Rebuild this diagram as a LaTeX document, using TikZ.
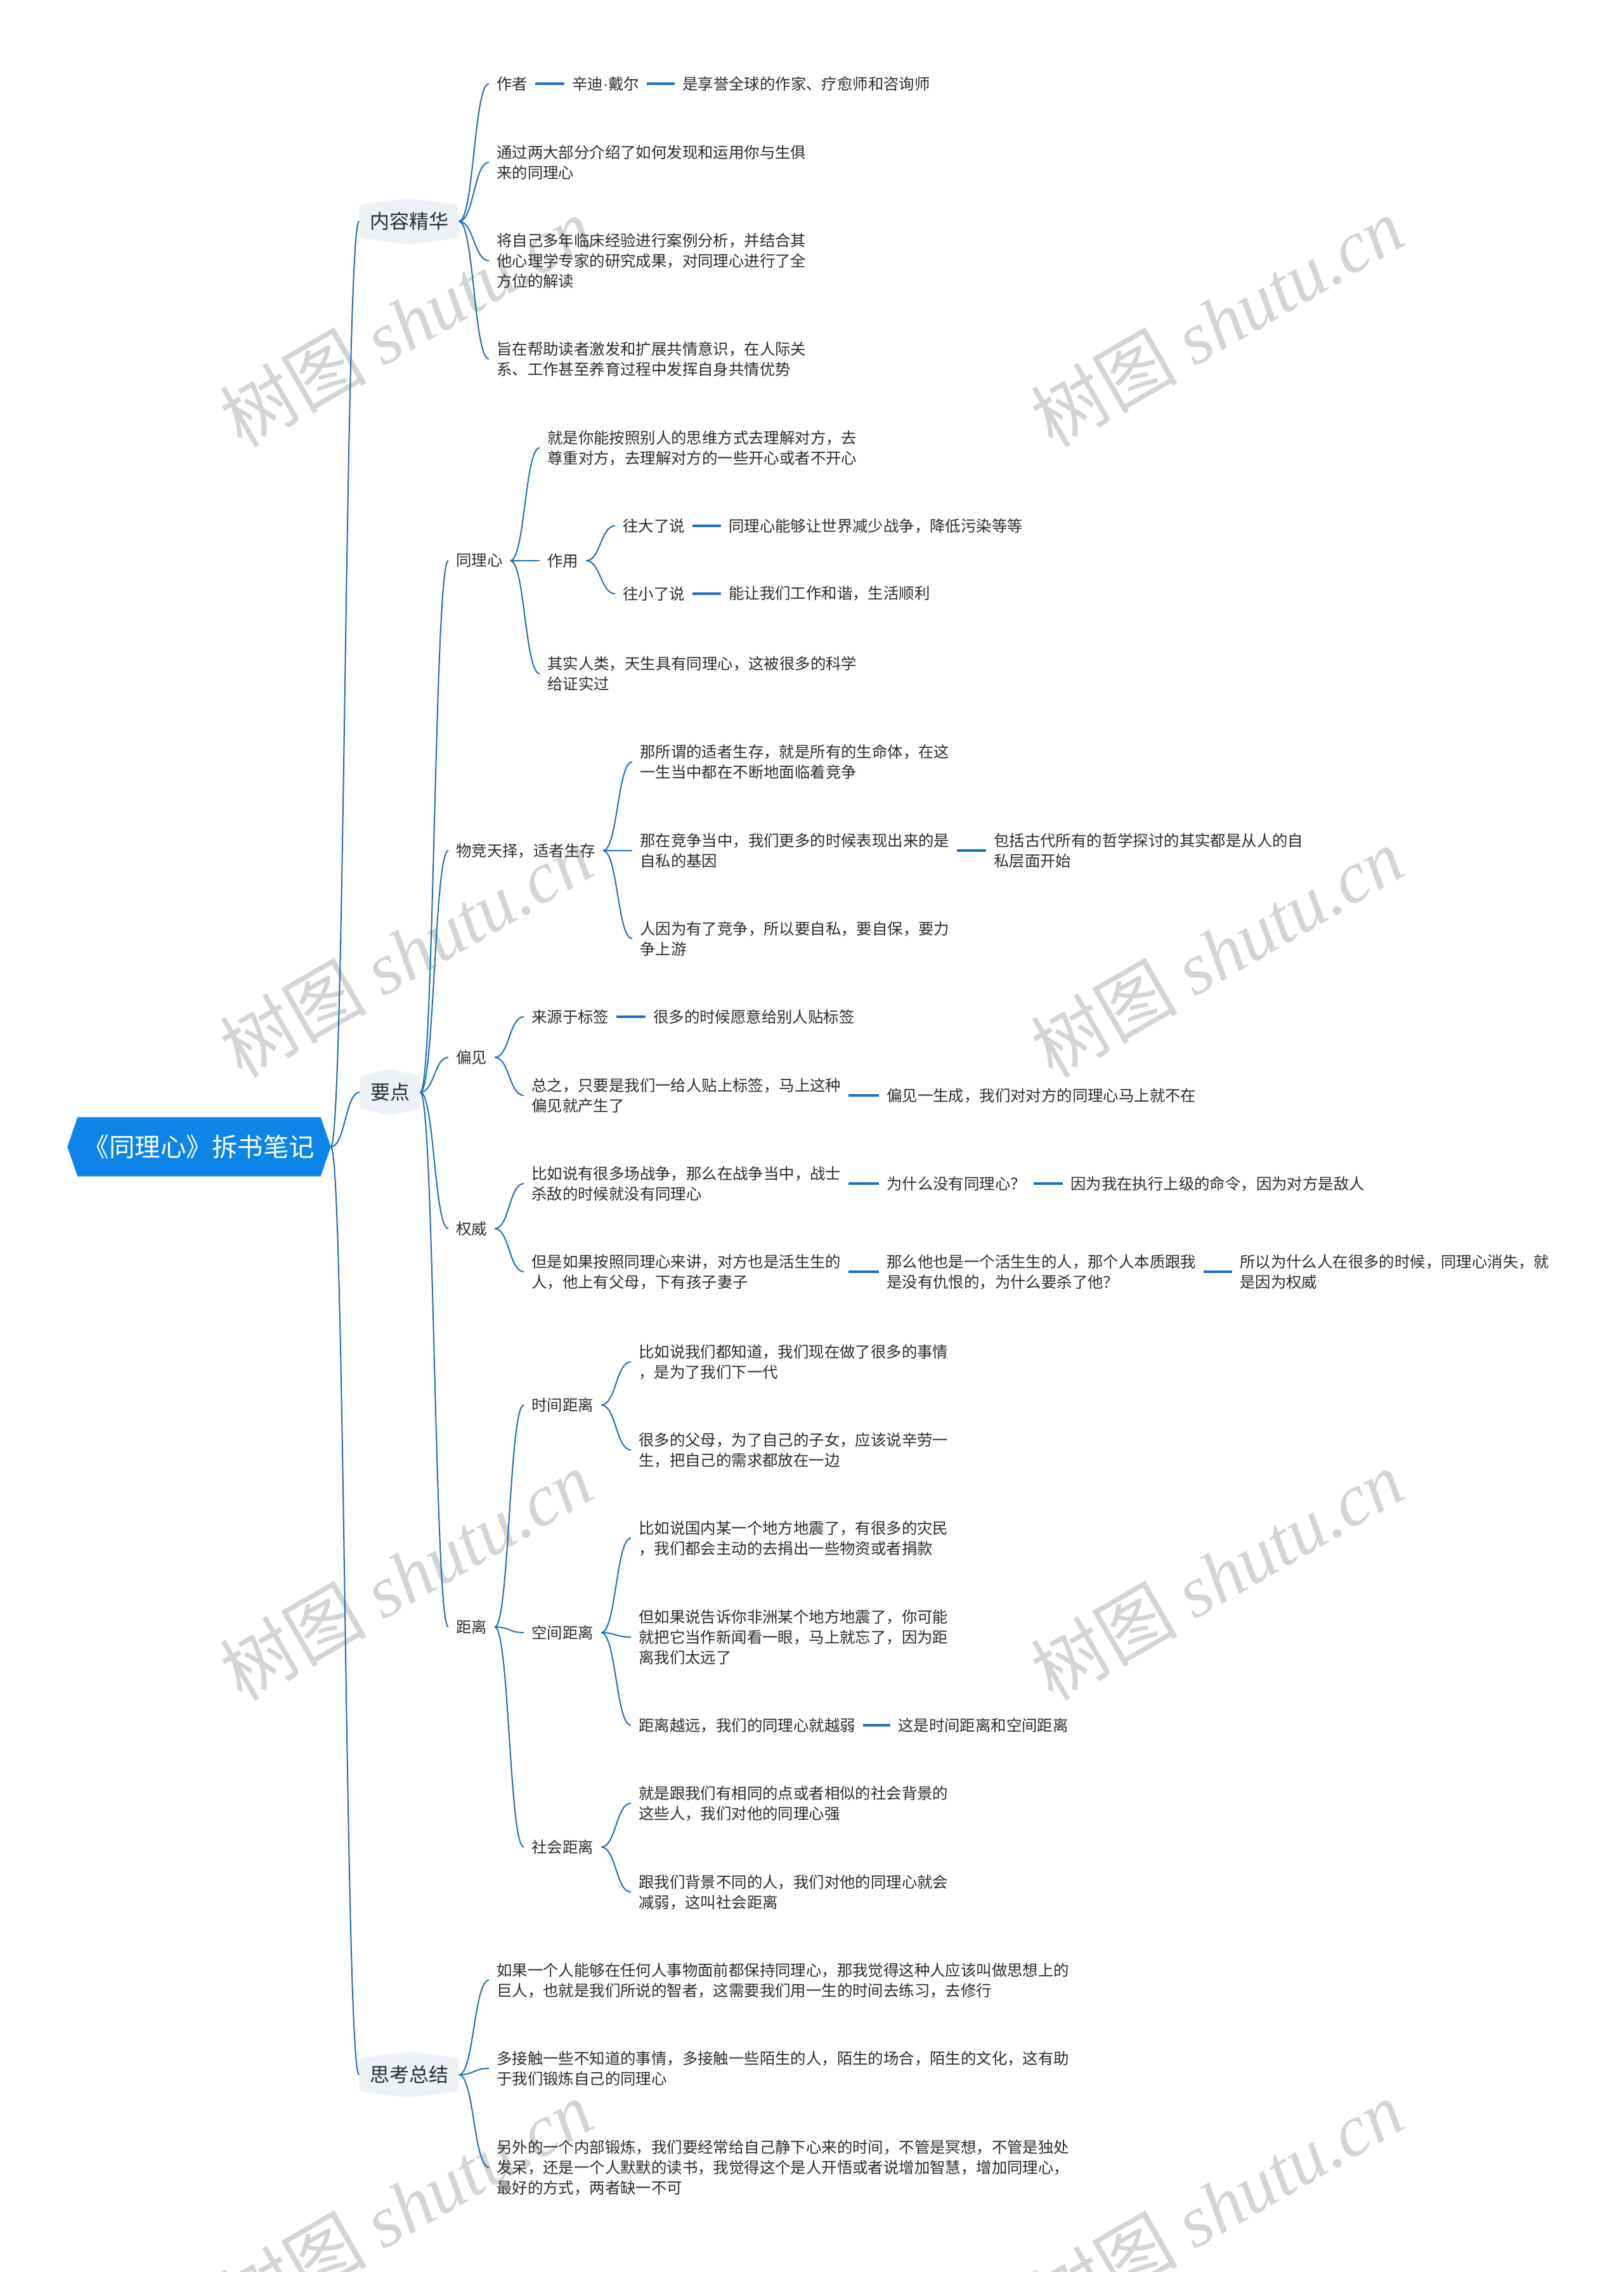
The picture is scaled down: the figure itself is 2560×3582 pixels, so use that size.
\documentclass[tikz,border=0pt]{standalone}
\usepackage{fontspec}
\setmainfont{Noto Sans CJK SC}
\newfontfamily\wmlatin{Liberation Serif}
\newfontfamily\dotfont{Liberation Sans}
\usetikzlibrary{calc,backgrounds}
\definecolor{linec}{RGB}{30,108,192}
\definecolor{rootc}{RGB}{12,132,232}
\definecolor{lvlc}{RGB}{237,241,246}
\definecolor{txtc}{RGB}{45,45,45}
\definecolor{wmc}{RGB}{212,212,212}
\tikzset{
  txt/.style={anchor=west,inner xsep=12pt,inner ysep=2pt,align=left,text=txtc,font=\fontsize{24.4}{32}\selectfont},
  lvl/.style={inner xsep=16.5pt,inner ysep=0pt,minimum height=52pt,text=txtc,font=\fontsize{31}{36}\selectfont},
  rootnode/.style={inner sep=0pt,minimum width=383pt,minimum height=93pt,text=white,font=\fontsize{40.5}{48}\selectfont},
  wm/.style={rotate=30,text=wmc,font=\fontsize{116}{120}\selectfont,inner sep=0pt},
  conn/.style={draw=linec,line width=2pt},
  chain/.style={draw=linec,line width=3.4pt},
  curvy/.style={to path={let \p1=(\tikztostart),\p2=(\tikztotarget),\n1={0.5*(\x2-\x1)} in .. controls +(\n1,0) and +(-\n1,0) .. (\tikztotarget)}},
}
\newcommand{\wmtext}{树图 {\wmlatin\itshape shutu.cn}}
\begin{document}
\begin{tikzpicture}[x=1pt,y=-1pt]
\useasboundingbox (0,0) rectangle (2560,3582);
\begin{scope}[on background layer]
  \fill[white] (0,0) rectangle (2560,3582);
  \node[wm] (w1) at (640,507) {\wmtext};
  \node[wm] (w2) at (1919,507) {\wmtext};
  \node[wm] (w3) at (640,1501) {\wmtext};
  \node[wm] (w4) at (1919,1501) {\wmtext};
  \node[wm] (w5) at (640,2483) {\wmtext};
  \node[wm] (w6) at (1919,2483) {\wmtext};
  \node[wm] (w7) at (640,3476) {\wmtext};
  \node[wm] (w8) at (1919,3476) {\wmtext};
\end{scope}

% root and level 1
\node[rootnode] (root) at (314,1808) {《同理心》拆书笔记};
\coordinate (rtip) at ($(root.east)+(16,0)$);
\node[lvl] (nr) at (645,349) {内容精华};
\node[lvl] (yd) at (615,1722) {要点};
\node[lvl] (sk) at (645,3271) {思考总结};

\begin{scope}[on background layer]
  \fill[rootc] (root.south west) -- ($(root.west)+(-16,0)$) -- (root.north west) -- (root.north east) -- (rtip) -- (root.south east) -- cycle;
  \foreach \n in {nr,yd,sk}{
    \fill[lvlc,rounded corners=5pt] (\n.south west) -- (\n.north west) -- ($(\n.north)+(0,-10)$) -- (\n.north east) -- (\n.south east) -- ($(\n.south)+(0,10)$) -- cycle;
  }
\end{scope}

% 内容精华
\node[txt] (n1a) at (771,132) {作者};
\node[txt] (n1a2) at (890,132) {辛迪{\dotfont ·}戴尔};
\node[txt] (n1a3) at (1064,132) {是享誉全球的作家、疗愈师和咨询师};
\node[txt] (n1b) at (771,256) {通过两大部分介绍了如何发现和运用你与生俱\\来的同理心};
\node[txt] (n1c) at (771,411) {将自己多年临床经验进行案例分析，并结合其\\他心理学专家的研究成果，对同理心进行了全\\方位的解读};
\node[txt] (n1d) at (771,566) {旨在帮助读者激发和扩展共情意识，在人际关\\系、工作甚至养育过程中发挥自身共情优势};

% 同理心
\node[txt] (tl) at (707,884) {同理心};
\node[txt] (tl1) at (851,706) {就是你能按照别人的思维方式去理解对方，去\\尊重对方，去理解对方的一些开心或者不开心};
\node[txt] (zy) at (851,884) {作用};
\node[txt] (tl3) at (851,1062) {其实人类，天生具有同理心，这被很多的科学\\给证实过};
\node[txt] (zy1) at (970,829) {往大了说};
\node[txt] (zy1b) at (1137,829) {同理心能够让世界减少战争，降低污染等等};
\node[txt] (zy2) at (970,936) {往小了说};
\node[txt] (zy2b) at (1137,936) {能让我们工作和谐，生活顺利};

% 物竞天择
\node[txt] (wj) at (707,1341) {物竞天择，适者生存};
\node[txt] (wj1) at (997,1201) {那所谓的适者生存，就是所有的生命体，在这\\一生当中都在不断地面临着竞争};
\node[txt] (wj2) at (997,1341) {那在竞争当中，我们更多的时候表现出来的是\\自私的基因};
\node[txt] (wj2b) at (1555,1341) {包括古代所有的哲学探讨的其实都是从人的自\\私层面开始};
\node[txt] (wj3) at (997,1480) {人因为有了竞争，所以要自私，要自保，要力\\争上游};

% 偏见
\node[txt] (pj) at (707,1667) {偏见};
\node[txt] (pj1) at (826,1603) {来源于标签};
\node[txt] (pj1b) at (1018,1603) {很多的时候愿意给别人贴标签};
\node[txt] (pj2) at (826,1727) {总之，只要是我们一给人贴上标签，马上这种\\偏见就产生了};
\node[txt] (pj2b) at (1386,1727) {偏见一生成，我们对对方的同理心马上就不在};

% 权威
\node[txt] (qw) at (707,1937) {权威};
\node[txt] (qw1) at (826,1866) {比如说有很多场战争，那么在战争当中，战士\\杀敌的时候就没有同理心};
\node[txt] (qw1b) at (1386,1866) {为什么没有同理心？};
\node[txt] (qw1c) at (1676,1866) {因为我在执行上级的命令，因为对方是敌人};
\node[txt] (qw2) at (826,2005) {但是如果按照同理心来讲，对方也是活生生的\\人，他上有父母，下有孩子妻子};
\node[txt] (qw2b) at (1386,2005) {那么他也是一个活生生的人，那个人本质跟我\\是没有仇恨的，为什么要杀了他？};
\node[txt] (qw2c) at (1943,2005) {所以为什么人在很多的时候，同理心消失，就\\是因为权威};

% 距离
\node[txt] (jl) at (707,2565) {距离};
\node[txt] (sj) at (826,2215) {时间距离};
\node[txt] (kj) at (826,2574) {空间距离};
\node[txt] (shj) at (826,2912) {社会距离};
\node[txt] (sj1) at (995,2147) {比如说我们都知道，我们现在做了很多的事情\\，是为了我们下一代};
\node[txt] (sj2) at (995,2286) {很多的父母，为了自己的子女，应该说辛劳一\\生，把自己的需求都放在一边};
\node[txt] (kj1) at (995,2425) {比如说国内某一个地方地震了，有很多的灾民\\，我们都会主动的去捐出一些物资或者捐款};
\node[txt] (kj2) at (995,2581) {但如果说告诉你非洲某个地方地震了，你可能\\就把它当作新闻看一眼，马上就忘了，因为距\\离我们太远了};
\node[txt] (kj3) at (995,2720) {距离越远，我们的同理心就越弱};
\node[txt] (kj3b) at (1404,2720) {这是时间距离和空间距离};
\node[txt] (shj1) at (995,2843) {就是跟我们有相同的点或者相似的社会背景的\\这些人，我们对他的同理心强};
\node[txt] (shj2) at (995,2983) {跟我们背景不同的人，我们对他的同理心就会\\减弱，这叫社会距离};

% 思考总结
\node[txt] (sk1) at (771,3122) {如果一个人能够在任何人事物面前都保持同理心，那我觉得这种人应该叫做思想上的\\巨人，也就是我们所说的智者，这需要我们用一生的时间去练习，去修行};
\node[txt] (sk2) at (771,3261) {多接触一些不知道的事情，多接触一些陌生的人，陌生的场合，陌生的文化，这有助\\于我们锻炼自己的同理心};
\node[txt] (sk3) at (771,3417) {另外的一个内部锻炼，我们要经常给自己静下心来的时间，不管是冥想，不管是独处\\发呆，还是一个人默默的读书，我觉得这个是人开悟或者说增加智慧，增加同理心，\\最好的方式，两者缺一不可};

% connectors
\foreach \c in {nr,yd,sk}{ \draw[conn] (rtip) to[curvy] (\c.west); }
\foreach \c in {n1a,n1b,n1c,n1d}{ \draw[conn] (nr.east) to[curvy] (\c.west); }
\foreach \c in {tl,wj,pj,qw,jl}{ \draw[conn] (yd.east) to[curvy] (\c.west); }
\foreach \c in {tl1,zy,tl3}{ \draw[conn] (tl.east) to[curvy] (\c.west); }
\foreach \c in {zy1,zy2}{ \draw[conn] (zy.east) to[curvy] (\c.west); }
\foreach \c in {wj1,wj2,wj3}{ \draw[conn] (wj.east) to[curvy] (\c.west); }
\foreach \c in {pj1,pj2}{ \draw[conn] (pj.east) to[curvy] (\c.west); }
\foreach \c in {qw1,qw2}{ \draw[conn] (qw.east) to[curvy] (\c.west); }
\foreach \c in {sj,kj,shj}{ \draw[conn] (jl.east) to[curvy] (\c.west); }
\foreach \c in {sj1,sj2}{ \draw[conn] (sj.east) to[curvy] (\c.west); }
\foreach \c in {kj1,kj2,kj3}{ \draw[conn] (kj.east) to[curvy] (\c.west); }
\foreach \c in {shj1,shj2}{ \draw[conn] (shj.east) to[curvy] (\c.west); }
\foreach \c in {sk1,sk2,sk3}{ \draw[conn] (sk.east) to[curvy] (\c.west); }

% chain connectors
\draw[chain] (n1a.east) -- (n1a2.west);
\draw[chain] (n1a2.east) -- (n1a3.west);
\draw[chain] (zy1.east) -- (zy1b.west);
\draw[chain] (zy2.east) -- (zy2b.west);
\draw[chain] (wj2.east) -- (wj2b.west);
\draw[chain] (pj1.east) -- (pj1b.west);
\draw[chain] (pj2.east) -- (pj2b.west);
\draw[chain] (qw1.east) -- (qw1b.west);
\draw[chain] (qw1b.east) -- (qw1c.west);
\draw[chain] (qw2.east) -- (qw2b.west);
\draw[chain] (qw2b.east) -- (qw2c.west);
\draw[chain] (kj3.east) -- (kj3b.west);
\end{tikzpicture}
\end{document}
